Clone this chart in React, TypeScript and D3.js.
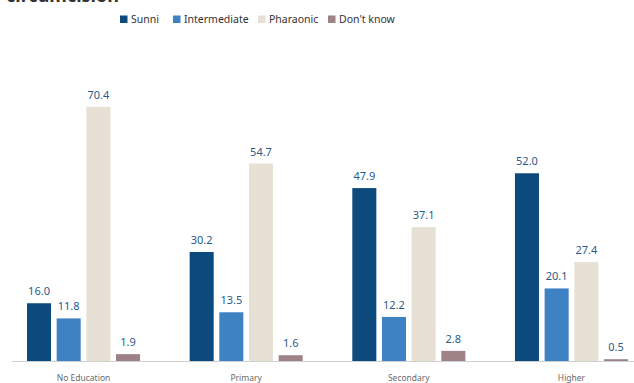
import React from "react";
import * as d3 from "d3";

const categories = ["No Education", "Primary", "Secondary", "Higher"];
const seriesNames = ["Sunni", "Intermediate", "Pharaonic", "Don't know"];
const sunni = [16.0, 30.2, 47.9, 52.0];
const intermediate = [11.8, 13.5, 12.2, 20.1];
const pharaonic = [70.4, 54.7, 37.1, 27.4];
const dontKnow = [1.9, 1.6, 2.8, 0.5];
const seriesValues = [sunni, intermediate, pharaonic, dontKnow];
const colors = ["#0c4a7e", "#3e82c4", "#e7e0d5", "#9e8285"];
const legendX = [120, 173, 258, 328];

const W = 634;
const H = 383;
const baseY = 361;

export default function App() {
  const x0 = d3.scaleBand<string>().domain(categories).range([27, 628]).paddingInner(0.305).paddingOuter(0);
  const x1 = d3.scaleBand<string>().domain(seriesNames).range([0, x0.bandwidth()]).paddingInner(0.19).paddingOuter(0);
  const y = d3.scaleLinear().domain([0, 100]).range([baseY, 0]);
  const font = "'Noto Sans', 'Open Sans', sans-serif";

  return (
    <svg width={W} height={H} style={{ position: "absolute", left: 0, top: 0, background: "#fff" }} fontFamily={font}>
      <text x={6} y={1.5} fontSize={18} fontWeight={700} fill="#333">circumcision</text>
      {seriesNames.map((s, i) => (
        <g key={s} transform={`translate(${legendX[i]},0)`}>
          <rect x={0} y={15.5} width={7.5} height={7.5} fill={colors[i]} />
          <text x={11} y={22.5} fontSize={10.5} fill="#333" textLength={undefined}>{s}</text>
        </g>
      ))}
      <line x1={12} x2={634} y1={baseY + 0.5} y2={baseY + 0.5} stroke="#d0d0d0" strokeWidth={1} />
      {categories.map((c, ci) => (
        <g key={c} transform={`translate(${x0(c)},0)`}>
          {seriesNames.map((s, si) => {
            const v = seriesValues[si][ci];
            const bx = x1(s)!;
            return (
              <g key={s}>
                <rect x={bx} y={y(v)} width={x1.bandwidth()} height={baseY - y(v)} fill={colors[si]} />
                <text x={bx + x1.bandwidth() / 2} y={y(v) - 8} textAnchor="middle" fontSize={11} fill="#2a5a8c">
                  {v.toFixed(1)}
                </text>
              </g>
            );
          })}
          <text x={x0.bandwidth() / 2} y={381} textAnchor="middle" fontSize={8.5} fill="#6a6a6a">{c}</text>
        </g>
      ))}
    </svg>
  );
}
